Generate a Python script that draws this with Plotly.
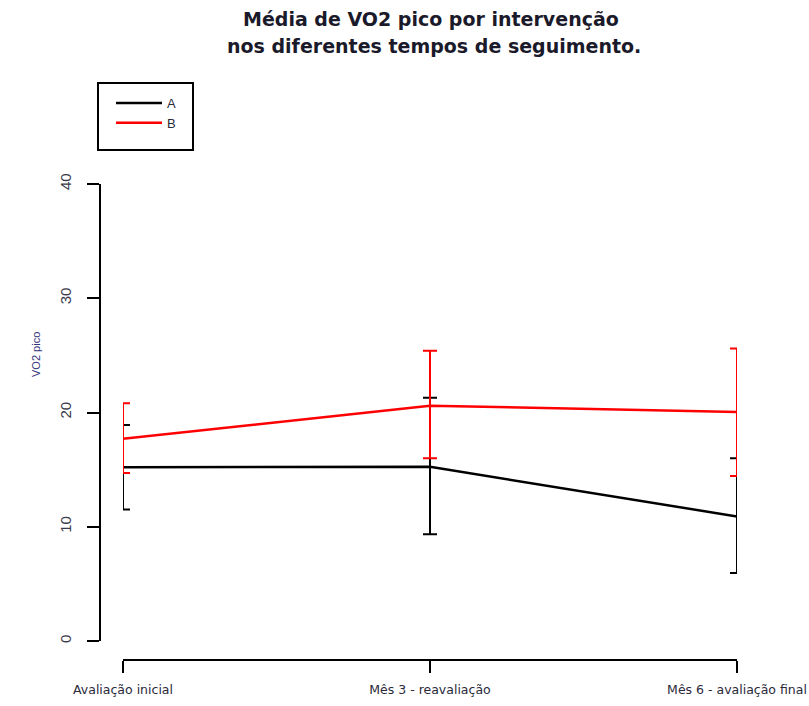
import plotly.graph_objects as go

W, H = 809, 706

# ---- data ----
timepoints = ["Avaliação inicial", "Mês 3 - reavaliação", "Mês 6 - avaliação final"]
x_pos = [1, 2, 3]
a_mean = [15.2, 15.25, 10.9]
a_upper = [18.9, 21.3, 16.0]
a_lower = [11.5, 9.35, 5.95]
b_mean = [17.7, 20.6, 20.05]
b_upper = [20.8, 25.4, 25.6]
b_lower = [14.7, 16.0, 14.45]
y_ticks = [0, 10, 20, 30, 40]

FONT = "Liberation Sans, Arial, sans-serif"
WIDE = "DejaVu Sans, Verdana, sans-serif"

def px_x(p):
    return p / W

def px_y(p):
    return 1 - p / H

fig = go.Figure()

def add_series(name, mean, upper, lower, color):
    fig.add_trace(go.Scatter(
        x=x_pos, y=mean, name=name, mode="lines",
        line=dict(color=color, width=2.5),
        error_y=dict(type="data", symmetric=False,
                     array=[u - m for u, m in zip(upper, mean)],
                     arrayminus=[m - l for m, l in zip(mean, lower)],
                     color=color, thickness=2, width=7),
        cliponaxis=False,
    ))

add_series("A", a_mean, a_upper, a_lower, "#000000")
add_series("B", b_mean, b_upper, b_lower, "#FF0000")

fig.update_layout(
    width=W, height=H,
    margin=dict(l=0, r=0, t=0, b=0, autoexpand=False),
    plot_bgcolor="white", paper_bgcolor="white",
    font=dict(family=FONT, color="#222222"),
    showlegend=True,
    legend=dict(x=px_x(111), y=px_y(88), xanchor="left", yanchor="top",
                bgcolor="rgba(0,0,0,0)", borderwidth=0, itemwidth=46,
                font=dict(size=13, color="#2a2a3a"), tracegroupgap=0),
    xaxis=dict(domain=[px_x(123), px_x(737)], range=[1, 3],
               anchor="free", position=px_y(660), automargin=False,
               tickmode="array", tickvals=x_pos, ticktext=timepoints,
               showline=True, linecolor="black", linewidth=2,
               ticks="outside", ticklen=12, tickwidth=2, tickcolor="black",
               ticklabelstandoff=6,
               showgrid=False, zeroline=False,
               tickfont=dict(size=12.5, family=WIDE, color="#2a2a3a")),
    yaxis=dict(domain=[px_y(641), px_y(184)], range=[0, 40],
               anchor="free", position=px_x(100), automargin=False,
               tickmode="array", tickvals=y_ticks,
               showline=True, linecolor="black", linewidth=2,
               ticks="outside", ticklen=12, tickwidth=2, tickcolor="black",
               tickangle=-90, ticklabelstandoff=10,
               showgrid=False, zeroline=False,
               tickfont=dict(size=15, color="#3a3a4a")),
    shapes=[dict(type="rect", xref="paper", yref="paper",
                 x0=px_x(98), x1=px_x(193), y0=px_y(150), y1=px_y(83),
                 line=dict(color="black", width=2))],
    annotations=[
        dict(text="<b>Média de VO2 pico por intervenção</b>", x=px_x(431), y=px_y(19),
             xref="paper", yref="paper", showarrow=False, xanchor="center", yanchor="middle",
             font=dict(size=19, family=WIDE, color="#1a1a2a")),
        dict(text="<b>nos diferentes tempos de seguimento.</b>", x=px_x(434), y=px_y(46),
             xref="paper", yref="paper", showarrow=False, xanchor="center", yanchor="middle",
             font=dict(size=19, family=WIDE, color="#1a1a2a")),
        dict(text="VO2 pico", x=px_x(36), y=px_y(355), textangle=-90,
             xref="paper", yref="paper", showarrow=False, xanchor="center", yanchor="middle",
             font=dict(size=11, color="#33337a")),
    ],
)

fig.write_html("out.html")
